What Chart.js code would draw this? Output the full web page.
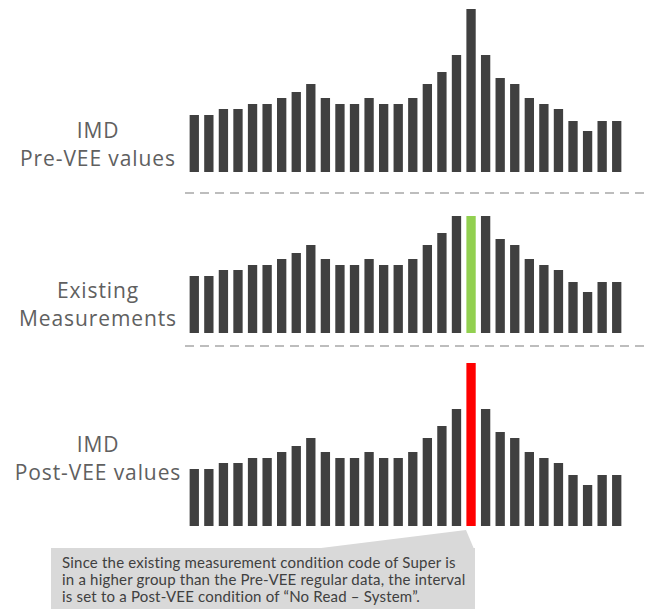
<!DOCTYPE html>
<html>
<head>
<meta charset="utf-8">
<script src="https://cdn.jsdelivr.net/npm/chart.js@4.4.1/dist/chart.umd.min.js"></script>
<style>
  body { margin: 0; background: #fff; width: 645px; height: 615px; position: relative; overflow: hidden; font-family: "Open Sans", sans-serif; }
  .panel { position: absolute; left: 187px; width: 437px; }
  .label { position: absolute; left: 0; width: 196px; text-align: center; color: #606060; font-size: 21px; line-height: 28px; letter-spacing: 0.9px; white-space: nowrap; }
  #note { position: absolute; left: 51px; top: 548px; width: 424px; height: 61px; background: #d9d9d9; color: #404040; font-family: Lato, sans-serif; font-size: 15px; line-height: 17px; letter-spacing: 0.2px; padding: 6px 0 0 11px; box-sizing: border-box; white-space: nowrap; }
  svg { position: absolute; left: 0; top: 0; }
</style>
</head>
<body>

<svg width="645" height="615">
  <line x1="185" y1="193" x2="645" y2="193" stroke="#bdbdbd" stroke-width="2" stroke-dasharray="9 6"/>
  <line x1="185" y1="346" x2="645" y2="346" stroke="#bdbdbd" stroke-width="2" stroke-dasharray="9 6"/>
  <polygon points="313,549 466,530 474,549" fill="#d9d9d9"/>
</svg>

<div class="label" style="top:116px">IMD<br>Pre-VEE values</div>
<div class="label" style="top:276px">Existing<br>Measurements</div>
<div class="label" style="top:430px">IMD<br>Post-VEE values</div>

<div class="panel" style="top:8px;height:164px"><canvas id="preChart"></canvas></div>
<div class="panel" style="top:213px;height:120px"><canvas id="existChart"></canvas></div>
<div class="panel" style="top:362px;height:164px"><canvas id="postChart"></canvas></div>

<div id="note">Since the existing measurement condition code of Super is<br>in a higher group than the Pre-VEE regular data, the interval<br>is set to a Post-VEE condition of “No Read – System”.</div>

<script>
// interval readings, one bar per interval
const intervals = ['1','2','3','4','5','6','7','8','9','10','11','12','13','14','15',
                   '16','17','18','19','20','21','22','23','24','25','26','27','28','29','30'];
const preVeeValues = [57,57,63,63,68,68,74,80,88,74,68,68,74,68,68,74,88,100,117,163,117,94,88,74,68,63,51,41,51,51];
const existingValues = [57,57,63,63,68,68,74,80,88,74,68,68,74,68,68,74,88,100,117,117,117,94,88,74,68,63,51,41,51,51];
const postVeeValues = [57,57,63,63,68,68,74,80,88,74,68,68,74,68,68,74,88,100,117,163,117,94,88,74,68,63,51,41,51,51];
const flaggedIndex = 19;

const barGray = '#404040';

function barColors(highlight) {
    return intervals.map((l, i) => (highlight && i === flaggedIndex) ? highlight : barGray);
}

function makeBars(id, values, yMax, highlight) {
    const ctx = document.getElementById(id);
    return new Chart(ctx, {
        type: 'bar',
        data: {
            labels: intervals,
            datasets: [{
                data: values,
                backgroundColor: barColors(highlight),
                barPercentage: 0.64,
                categoryPercentage: 1.0,
                borderWidth: 0
            }]
        },
        options: {
            responsive: true,
            maintainAspectRatio: false,
            animation: false,
            layout: { padding: 0 },
            plugins: { legend: { display: false }, tooltip: { enabled: false } },
            scales: {
                x: { display: false },
                y: { display: false, min: 0, max: yMax }
            }
        }
    });
}

makeBars('preChart', preVeeValues, 164, null);
makeBars('existChart', existingValues, 120, '#92d050');
makeBars('postChart', postVeeValues, 164, '#ff0000');
</script>
</body>
</html>
